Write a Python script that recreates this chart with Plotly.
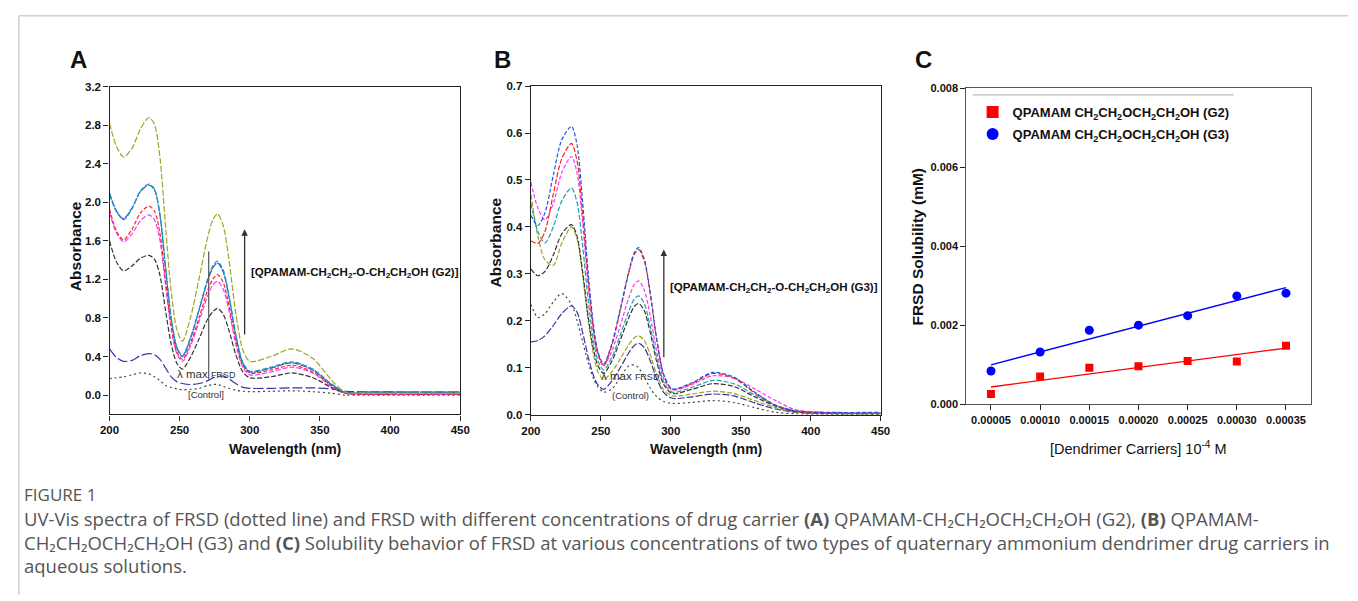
import numpy as np
import plotly.graph_objects as go

W, H = 1358, 601

# ---------------- Panel A data (QPAMAM G2) ----------------
wl_A = [200, 205, 210, 216, 222, 228, 232, 236, 240, 244, 248, 252, 258, 264, 270, 274, 277, 281, 285, 290, 295,
        300, 315, 330, 345, 358, 368, 380, 450]
A_olive   = [2.82, 2.58, 2.47, 2.56, 2.76, 2.88, 2.81, 2.46, 1.74, 1.07, 0.68, 0.56, 0.82, 1.22, 1.64, 1.83, 1.88,
             1.76, 1.42, 0.85, 0.47, 0.35, 0.40, 0.48, 0.38, 0.16, 0.03, 0.02, 0.02]
A_teal    = [2.08, 1.90, 1.82, 1.93, 2.12, 2.19, 2.14, 1.87, 1.32, 0.80, 0.50, 0.41, 0.61, 0.90, 1.21, 1.35, 1.39,
             1.30, 1.05, 0.63, 0.34, 0.25, 0.29, 0.345, 0.27, 0.12, 0.03, 0.03, 0.03]
A_blue    = [2.10, 1.91, 1.83, 1.94, 2.11, 2.18, 2.13, 1.86, 1.31, 0.79, 0.49, 0.40, 0.60, 0.89, 1.19, 1.33, 1.37,
             1.28, 1.03, 0.62, 0.33, 0.24, 0.28, 0.335, 0.26, 0.11, 0.03, 0.03, 0.03]
A_red     = [1.93, 1.70, 1.61, 1.72, 1.89, 1.96, 1.91, 1.67, 1.18, 0.72, 0.45, 0.37, 0.55, 0.81, 1.09, 1.21, 1.25,
             1.17, 0.94, 0.57, 0.31, 0.23, 0.26, 0.31, 0.24, 0.10, 0.02, 0.01, 0.01]
A_magenta = [1.90, 1.68, 1.59, 1.67, 1.81, 1.87, 1.82, 1.60, 1.13, 0.69, 0.43, 0.35, 0.52, 0.77, 1.03, 1.15, 1.18,
             1.10, 0.89, 0.53, 0.29, 0.21, 0.24, 0.29, 0.23, 0.09, 0.02, 0.01, 0.01]
A_black   = [1.60, 1.38, 1.29, 1.34, 1.42, 1.45, 1.41, 1.24, 0.87, 0.53, 0.33, 0.27, 0.40, 0.59, 0.79, 0.87, 0.90,
             0.84, 0.68, 0.42, 0.24, 0.18, 0.19, 0.23, 0.18, 0.08, 0.02, 0.01, 0.01]
A_navy    = [0.48, 0.39, 0.35, 0.36, 0.41, 0.43, 0.42, 0.37, 0.28, 0.19, 0.14, 0.12, 0.11, 0.12, 0.15, 0.18, 0.19,
             0.20, 0.17, 0.12, 0.08, 0.07, 0.07, 0.075, 0.075, 0.065, 0.04, 0.035, 0.03]
A_control = [0.17, 0.18, 0.19, 0.21, 0.23, 0.22, 0.19, 0.15, 0.10, 0.08, 0.065, 0.055, 0.06, 0.07, 0.10, 0.11, 0.11,
             0.09, 0.07, 0.05, 0.04, 0.035, 0.04, 0.045, 0.035, 0.02, 0.0, 0.0, 0.0]

# ---------------- Panel B data (QPAMAM G3) ----------------
wl_B = [200, 205, 210, 216, 222, 229, 233, 237, 241, 245, 248, 252, 258, 264, 270, 274, 277, 281, 285, 290, 295,
        301, 315, 330, 345, 360, 375, 390, 450]
B_blue    = [0.425, 0.403, 0.43, 0.51, 0.585, 0.614, 0.574, 0.452, 0.30, 0.184, 0.133, 0.108, 0.153, 0.227, 0.306,
             0.346, 0.356, 0.332, 0.266, 0.16, 0.085, 0.055, 0.068, 0.09, 0.08, 0.048, 0.02, 0.008, 0.005]
B_red     = [0.37, 0.365, 0.39, 0.47, 0.545, 0.578, 0.54, 0.427, 0.285, 0.176, 0.129, 0.105, 0.149, 0.224, 0.303,
             0.342, 0.352, 0.328, 0.263, 0.158, 0.084, 0.054, 0.066, 0.088, 0.078, 0.046, 0.02, 0.007, 0.003]
B_magenta = [0.495, 0.44, 0.415, 0.45, 0.515, 0.55, 0.514, 0.407, 0.273, 0.171, 0.126, 0.104, 0.137, 0.191, 0.249,
             0.278, 0.285, 0.266, 0.215, 0.134, 0.076, 0.053, 0.064, 0.083, 0.078, 0.055, 0.03, 0.01, 0.003]
B_teal    = [0.45, 0.39, 0.366, 0.40, 0.455, 0.483, 0.452, 0.359, 0.242, 0.153, 0.114, 0.095, 0.123, 0.171, 0.221,
             0.247, 0.253, 0.237, 0.192, 0.12, 0.069, 0.048, 0.058, 0.073, 0.066, 0.042, 0.02, 0.008, 0.003]
B_black   = [0.31, 0.296, 0.305, 0.34, 0.385, 0.405, 0.38, 0.304, 0.208, 0.135, 0.104, 0.088, 0.115, 0.16, 0.207,
             0.231, 0.237, 0.222, 0.179, 0.112, 0.064, 0.045, 0.054, 0.066, 0.06, 0.038, 0.018, 0.006, 0.002]
B_olive   = [0.47, 0.38, 0.33, 0.318, 0.365, 0.40, 0.374, 0.296, 0.199, 0.124, 0.091, 0.075, 0.092, 0.12, 0.149,
             0.164, 0.168, 0.158, 0.13, 0.085, 0.053, 0.04, 0.044, 0.05, 0.045, 0.03, 0.015, 0.005, 0.002]
B_navy    = [0.155, 0.158, 0.168, 0.19, 0.215, 0.232, 0.218, 0.175, 0.122, 0.081, 0.063, 0.054, 0.072, 0.101, 0.132,
             0.148, 0.152, 0.143, 0.117, 0.076, 0.047, 0.035, 0.038, 0.044, 0.04, 0.025, 0.012, 0.005, 0.003]
B_control = [0.235, 0.207, 0.215, 0.24, 0.258, 0.235, 0.20, 0.155, 0.11, 0.075, 0.058, 0.048, 0.055, 0.08, 0.104,
             0.106, 0.10, 0.08, 0.058, 0.038, 0.028, 0.024, 0.026, 0.03, 0.026, 0.015, 0.005, 0.002, 0.0]

# ---------------- Panel C data (solubility) ----------------
carrier_conc = [0.00005, 0.00010, 0.00015, 0.00020, 0.00025, 0.00030, 0.00035]
sol_G2 = [0.00026, 0.00070, 0.00092, 0.00096, 0.00109, 0.00108, 0.00148]
sol_G3 = [0.00084, 0.00132, 0.00187, 0.00200, 0.00224, 0.00274, 0.00281]
c_ticks = [0.00005, 0.00010, 0.00015, 0.00020, 0.00025, 0.00030, 0.00035]

A_yticks = [0.0, 0.4, 0.8, 1.2, 1.6, 2.0, 2.4, 2.8, 3.2]
B_yticks = [0.0, 0.1, 0.2, 0.3, 0.4, 0.5, 0.6, 0.7]
C_yticks = [0.000, 0.002, 0.004, 0.006, 0.008]
wl_ticks = [200, 250, 300, 350, 400, 450]

OLIVE, TEAL, BLUE, RED, MAG, BLK, NAVY, CTRL = ("#a3a321", "#1f9fa8", "#1f55e0", "#ff2020", "#ff33ff",
                                                "#333333", "#3535a5", "#444444")
SHORT = "5px,2px"

fig = go.Figure()


def spec(x, y, color, dash, xa, ya, width=1.2):
    fig.add_trace(go.Scatter(x=x, y=y, mode="lines", xaxis=xa, yaxis=ya, showlegend=False,
                             line=dict(color=color, dash=dash, width=width, shape="spline", smoothing=0.8),
                             hoverinfo="skip"))


# Panel A
spec(wl_A, A_control, CTRL, "2px,3px", "x", "y")
spec(wl_A, A_navy, NAVY, "10px,3px", "x", "y")
spec(wl_A, A_black, BLK, SHORT, "x", "y")
spec(wl_A, A_magenta, MAG, SHORT, "x", "y")
spec(wl_A, A_red, RED, "4px,2px", "x", "y")
spec(wl_A, A_blue, BLUE, "7px,1px", "x", "y")
spec(wl_A, A_teal, TEAL, SHORT, "x", "y")
spec(wl_A, A_olive, OLIVE, "6px,2px", "x", "y")

# Panel B
spec(wl_B, B_control, CTRL, "2px,3px", "x2", "y2")
spec(wl_B, B_navy, NAVY, "7px,2px", "x2", "y2")
spec(wl_B, B_olive, OLIVE, SHORT, "x2", "y2")
spec(wl_B, B_black, BLK, SHORT, "x2", "y2")
spec(wl_B, B_teal, TEAL, SHORT, "x2", "y2")
spec(wl_B, B_magenta, MAG, "4px,2px", "x2", "y2")
spec(wl_B, B_red, RED, SHORT, "x2", "y2")
spec(wl_B, B_blue, BLUE, "4px,2px", "x2", "y2")

# Panel C : linear fits + markers
xc = np.array(carrier_conc)
xfit = np.array([carrier_conc[0], carrier_conc[-1]])
for ys, col in ((sol_G2, "#ff0000"), (sol_G3, "#0000ff")):
    k, b = np.polyfit(xc, np.array(ys), 1)
    fig.add_trace(go.Scatter(x=xfit, y=k * xfit + b, mode="lines", xaxis="x3", yaxis="y3",
                             showlegend=False, line=dict(color=col, width=1.3), hoverinfo="skip"))

fig.add_trace(go.Scatter(x=carrier_conc, y=sol_G2, mode="markers", xaxis="x3", yaxis="y3",
                         name="QPAMAM CH<sub>2</sub>CH<sub>2</sub>OCH<sub>2</sub>CH<sub>2</sub>OH (G2)",
                         legendgroup="g2",
                         marker=dict(symbol="square", size=8, color="#ff0000")))
fig.add_trace(go.Scatter(x=carrier_conc, y=sol_G3, mode="markers", xaxis="x3", yaxis="y3",
                         name="QPAMAM CH<sub>2</sub>CH<sub>2</sub>OCH<sub>2</sub>CH<sub>2</sub>OH (G3)",
                         legendgroup="g3",
                         marker=dict(symbol="circle", size=9, color="#0000ff")))

ARIAL = "Liberation Sans, Arial, sans-serif"
TICKFONT = dict(family=ARIAL, size=11.5, color="#111111", weight="bold")


def axstyle(**kw):
    d = dict(showline=True, linecolor="#222222", linewidth=1.4, mirror=True, ticks="outside",
             ticklen=5, tickwidth=1, tickcolor="#222222", showgrid=False, zeroline=False,
             tickfont=TICKFONT)
    d.update(kw)
    return d


def px_dom_x(a, b):
    return [a / W, b / W]


def px_dom_y(top, bottom):
    return [1 - bottom / H, 1 - top / H]


fig.update_layout(
    width=W, height=H, margin=dict(l=0, r=0, t=0, b=0),
    paper_bgcolor="white", plot_bgcolor="white",
    xaxis=axstyle(domain=px_dom_x(101, 457), range=[200, 450.01], tickvals=wl_ticks, anchor="y"),
    yaxis=axstyle(domain=px_dom_y(82.3, 416.7), range=[-0.2, 3.2001], tickvals=A_yticks,
                  tickformat=".1f", anchor="x"),
    xaxis2=axstyle(domain=px_dom_x(528.7, 883.7), range=[200, 450.01], tickvals=wl_ticks, anchor="y2"),
    yaxis2=axstyle(domain=px_dom_y(81.7, 417), range=[0, 0.7001], tickvals=B_yticks,
                   tickformat=".1f", anchor="x2"),
    xaxis3=axstyle(domain=px_dom_x(970.7, 1320), range=[0.000025, 0.000375], tickvals=c_ticks,
                   tickformat=".5f", anchor="y3", linecolor="#555555",
                   tickfont=dict(family=ARIAL, size=11, color="#111111", weight="bold")),
    yaxis3=axstyle(domain=px_dom_y(83.3, 406.3), range=[0, 0.00801], tickvals=C_yticks,
                   tickformat=".3f", anchor="x3", linecolor="#555555",
                   tickfont=dict(family=ARIAL, size=11, color="#111111", weight="bold")),
    legend=dict(x=977 / W, y=1 - 93 / H, xanchor="left", yanchor="top", bgcolor="rgba(0,0,0,0)",
                font=dict(family=ARIAL, size=13, color="#111111", weight="bold"),
                tracegroupgap=2, itemsizing="constant"),
    showlegend=True,
)

ann = []


def txt(x, y, text, size=12, bold=False, color="#111111", xanchor="center", yanchor="middle",
        xref="paper", yref="paper", angle=0, family=ARIAL):
    if xref == "paper":
        x = x / W
    if yref == "paper":
        y = 1 - y / H
    ann.append(dict(x=x, y=y, xref=xref, yref=yref, text=text, showarrow=False, textangle=angle,
                    xanchor=xanchor, yanchor=yanchor,
                    font=dict(size=size, color=color, family=family, weight="bold" if bold else "normal")))


# panel letters
txt(59, 55, "A", size=24, bold=True, xanchor="left")
txt(489, 55, "B", size=24, bold=True, xanchor="left")
txt(917, 55, "C", size=24, bold=True, xanchor="left")

# axis titles
txt(66, 245, "Absorbance", size=15.5, bold=True, angle=-90)
txt(279, 452, "Wavelength (nm)", size=14, bold=True)
txt(492.5, 241, "Absorbance", size=15.5, bold=True, angle=-90)
txt(706, 452, "Wavelength (nm)", size=14, bold=True)
txt(921, 245, "FRSD Solubility (mM)", size=15.5, bold=True, angle=-90)
txt(1145, 451, "[Dendrimer Carriers] 10<sup>-4</sup> M", size=14.5)

# in-plot labels panel A
txt(299.5, 1.27, "[QPAMAM-CH<sub>2</sub>CH<sub>2</sub>-O-CH<sub>2</sub>CH<sub>2</sub>OH (G2)]", size=11.5,
    bold=True, xanchor="left", xref="x", yref="y")
txt(269, 0.22, "λ max <span style='font-size:9px'>FRSD</span>", size=11.5, color="#333333", xref="x", yref="y")
txt(269, 0.01, "[Control]", size=9.5, color="#333333", xref="x", yref="y")
# panel B
txt(297.9, 0.269, "[QPAMAM-CH<sub>2</sub>CH<sub>2</sub>-O-CH<sub>2</sub>CH<sub>2</sub>OH (G3)]", size=11.5,
    bold=True, xanchor="left", xref="x2", yref="y2")
txt(271.5, 0.083, "λ max <span style='font-size:9px'>FRSD</span>", size=11.5, color="#333333", xref="x2", yref="y2")
txt(271.4, 0.04, "(Control)", size=9.5, color="#333333", xref="x2", yref="y2")

# arrows
ann.append(dict(x=296.3, y=1.72, ax=296.3, ay=0.614, xref="x", yref="y", axref="x", ayref="y",
                showarrow=True, arrowhead=2, arrowsize=1, arrowwidth=1.3, arrowcolor="#333333", text=""))
ann.append(dict(x=295, y=0.352, ax=295, ay=0.119, xref="x2", yref="y2", axref="x2", ayref="y2",
                showarrow=True, arrowhead=2, arrowsize=1, arrowwidth=1.3, arrowcolor="#333333", text=""))

# caption
CAP = "Open Sans, Noto Sans, DejaVu Sans, sans-serif"
txt(12, 498, "FIGURE 1", size=17, color="#555555", xanchor="left", family=CAP)
txt(12, 523, "UV-Vis spectra of FRSD (dotted line) and FRSD with different concentrations of drug carrier "
    "<b>(A)</b> QPAMAM-CH₂CH₂OCH₂CH₂OH (G2), <b>(B)</b> QPAMAM-",
    size=18.5, color="#555555", xanchor="left", family=CAP)
txt(12, 547, "CH₂CH₂OCH₂CH₂OH (G3) and <b>(C)</b> Solubility behavior "
    "of FRSD at various concentrations of two types of quaternary ammonium dendrimer drug carriers in",
    size=18.5, color="#555555", xanchor="left", family=CAP)
txt(12, 571, "aqueous solutions.", size=18.5, color="#555555", xanchor="left", family=CAP)

fig.update_layout(annotations=ann)

shapes = [
    # frame of the page
    dict(type="line", xref="paper", yref="paper", x0=9 / W, x1=1, y0=1 - 10 / H, y1=1 - 10 / H,
         line=dict(color="#d0d0d0", width=1.5)),
    dict(type="line", xref="paper", yref="paper", x0=9 / W, x1=9 / W, y0=0, y1=1 - 10 / H,
         line=dict(color="#d0d0d0", width=1.5)),
    # λmax marker in panel A
    dict(type="line", xref="x", yref="y", x0=270.7, x1=270.7, y0=0.16, y1=1.49,
         line=dict(color="#555555", width=1.2)),
    # legend top line in panel C
    dict(type="line", xref="paper", yref="paper", x0=977 / W, x1=1242 / W, y0=1 - 90.7 / H, y1=1 - 90.7 / H,
         line=dict(color="#aaaaaa", width=1)),
]
fig.update_layout(shapes=shapes)

fig.write_html("out.html", config={"displayModeBar": False},
               post_script="document.body.style.margin='0px';document.body.style.overflow='hidden';")
